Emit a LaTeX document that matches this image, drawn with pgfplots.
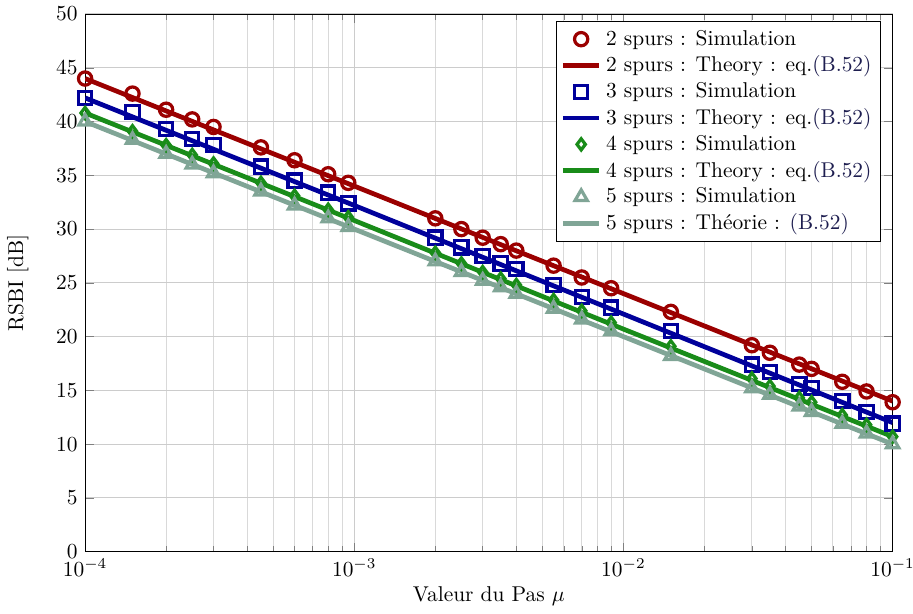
\documentclass[border=0pt]{standalone}
\usepackage{pgfplots}
\pgfplotsset{compat=1.18}
\definecolor{cred}{RGB}{155,0,0}
\definecolor{cblue}{RGB}{0,0,155}
\definecolor{cgreen}{RGB}{25,140,25}
\definecolor{cgray}{RGB}{128,165,150}
\definecolor{refcol}{RGB}{30,30,80}
\begin{document}
\begin{tikzpicture}[trim right=386.5pt]
\begin{axis}[
  scale only axis,
  width=377pt, height=251pt,
  xmode=log,
  xmin=1e-4, xmax=1e-1,
  ymin=0, ymax=50,
  ytick={0,5,...,50},
  grid=both,
  major grid style={gray!40, line width=0.5pt},
  minor grid style={gray!30, line width=0.4pt},
  xlabel={Valeur du Pas $\mu$},
  ylabel={RSBI [dB]},
  xlabel style={yshift=2pt},
  ylabel shift=6pt,
  legend cell align=left,
  legend style={at={(rel axis cs:0.985,0.987)}, anchor=north east, font=\normalsize, row sep=-0.5pt, inner sep=2pt},
]
\addplot[only marks, mark=o, mark size=3.1pt, line width=1.5pt, color=cred] coordinates {
(1e-4,44.0)(1.5e-4,42.6)(2e-4,41.1)(2.5e-4,40.2)(3e-4,39.5)(4.5e-4,37.6)(6e-4,36.4)(8e-4,35.1)(9.5e-4,34.3)
(2e-3,31.0)(2.5e-3,30.0)(3e-3,29.2)(3.5e-3,28.6)(4e-3,28.0)(5.5e-3,26.6)(7e-3,25.5)(9e-3,24.5)
(1.5e-2,22.3)(3e-2,19.2)(3.5e-2,18.5)(4.5e-2,17.4)(5e-2,17.0)(6.5e-2,15.8)(8e-2,14.9)(1e-1,13.9)};
\addlegendentry{2 spurs : Simulation}
\addplot[no marks, line width=2.2pt, color=cred] coordinates {(1e-4,44.0)(1e-3,34.0)(1e-2,24.0)(1e-1,14.0)};
\addlegendentry{2 spurs : Theory : eq.\textcolor{refcol}{(B.52)}}
\addplot[only marks, mark=square, mark size=3.1pt, line width=1.5pt, color=cblue] coordinates {
(1e-4,42.2)(1.5e-4,40.9)(2e-4,39.3)(2.5e-4,38.4)(3e-4,37.8)(4.5e-4,35.8)(6e-4,34.5)(8e-4,33.4)(9.5e-4,32.4)
(2e-3,29.2)(2.5e-3,28.3)(3e-3,27.5)(3.5e-3,26.8)(4e-3,26.3)(5.5e-3,24.8)(7e-3,23.7)(9e-3,22.7)
(1.5e-2,20.5)(3e-2,17.4)(3.5e-2,16.7)(4.5e-2,15.6)(5e-2,15.2)(6.5e-2,14.0)(8e-2,13.0)(1e-1,11.9)};
\addlegendentry{3 spurs : Simulation}
\addplot[no marks, line width=2.2pt, color=cblue] coordinates {(1e-4,42.2)(1e-3,32.2)(1e-2,22.1)(1e-1,12.0)};
\addlegendentry{3 spurs : Theory : eq.\textcolor{refcol}{(B.52)}}
\addplot[only marks, mark=diamond, mark size=2.6pt, line width=1.5pt, color=cgreen] coordinates {
(1e-4,40.8)(1.5e-4,39.1)(2e-4,37.8)(2.5e-4,36.9)(3e-4,36.1)(4.5e-4,34.3)(6e-4,33.1)(8e-4,31.8)(9.5e-4,31.1)
(2e-3,27.8)(2.5e-3,26.8)(3e-3,26.0)(3.5e-3,25.4)(4e-3,24.8)(5.5e-3,23.4)(7e-3,22.4)(9e-3,21.3)
(1.5e-2,19.1)(3e-2,16.1)(3.5e-2,15.4)(4.5e-2,14.3)(5e-2,13.9)(6.5e-2,12.7)(8e-2,11.8)(1e-1,10.7)};
\addlegendentry{4 spurs : Simulation}
\addplot[no marks, line width=2.2pt, color=cgreen] coordinates {(1e-4,40.8)(1e-3,30.8)(1e-2,20.7)(1e-1,10.7)};
\addlegendentry{4 spurs : Theory : eq.\textcolor{refcol}{(B.52)}}
\addplot[only marks, mark=triangle, mark size=3.3pt, line width=1.5pt, color=cgray] coordinates {
(1e-4,40.0)(1.5e-4,38.3)(2e-4,37.0)(2.5e-4,36.0)(3e-4,35.2)(4.5e-4,33.5)(6e-4,32.2)(8e-4,31.0)(9.5e-4,30.2)
(2e-3,27.0)(2.5e-3,26.0)(3e-3,25.2)(3.5e-3,24.6)(4e-3,24.0)(5.5e-3,22.6)(7e-3,21.6)(9e-3,20.5)
(1.5e-2,18.2)(3e-2,15.2)(3.5e-2,14.6)(4.5e-2,13.5)(5e-2,13.0)(6.5e-2,11.9)(8e-2,11.0)(1e-1,10.0)};
\addlegendentry{5 spurs : Simulation}
\addplot[no marks, line width=2.2pt, color=cgray] coordinates {(1e-4,40.0)(1e-3,30.0)(1e-2,20.0)(1e-1,10.0)};
\addlegendentry{5 spurs : Théorie : \textcolor{refcol}{(B.52)}}
\end{axis}
\end{tikzpicture}
\end{document}
